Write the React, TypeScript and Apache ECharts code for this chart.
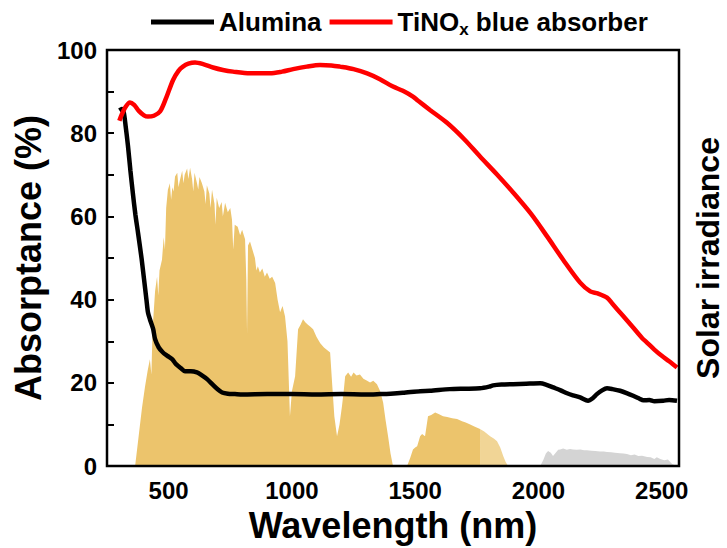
import React, { useEffect, useRef } from "react";
import * as echarts from "echarts";

const FONT = '"Liberation Sans", Arial, Helvetica, sans-serif';

const xTickLabels = [500, 1000, 1500, 2000, 2500];

const alumina: [number, number][] = [
  [300, 85.5], [310, 85.8], [318, 85], [325, 82], [335, 77], [345, 71], [355, 65.5], [365, 60.5],
  [376, 56], [390, 50], [400, 45], [410, 40], [416, 37], [424, 35.3], [437, 33], [445, 30.5],
  [460, 28.5], [477, 27.3], [495, 26.5], [514, 25.7], [530, 24.5], [550, 23.5], [566, 22.8],
  [590, 22.8], [615, 22.5], [635, 21.8], [656, 20.9], [680, 19.5], [700, 18.4], [717, 17.7],
  [740, 17.4], [769, 17.3], [800, 17.2], [900, 17.3], [1000, 17.3], [1100, 17.2], [1200, 17.3],
  [1300, 17.2], [1357, 17.3], [1400, 17.4], [1450, 17.6], [1520, 18], [1560, 18.1], [1640, 18.5],
  [1700, 18.6], [1763, 18.7], [1800, 19.1], [1816, 19.4], [1850, 19.6], [1897, 19.7], [1950, 19.8],
  [2007, 19.9], [2030, 19.6], [2060, 18.9], [2090, 18.2], [2116, 17.5], [2140, 17], [2169, 16.5],
  [2201, 15.7], [2220, 16.3], [2237, 17.3], [2258, 18.2], [2278, 18.7], [2300, 18.5], [2331, 18.1],
  [2360, 17.5], [2384, 16.9], [2410, 16.2], [2425, 15.8], [2450, 15.9], [2470, 15.6], [2506, 15.7],
  [2530, 15.9], [2562, 15.7],
];

const tinox: [number, number][] = [
  [300, 83], [310, 84.5], [325, 86.3], [343, 87.4], [360, 86.8], [380, 85.3], [400, 84.3], [416, 84],
  [440, 84.2], [465, 85.2], [490, 88.5], [518, 92.8], [540, 95], [558, 96], [580, 96.7], [607, 97],
  [640, 96.6], [680, 95.8], [720, 95.2], [761, 94.8], [830, 94.4], [911, 94.4], [960, 94.8],
  [1005, 95.4], [1060, 96], [1114, 96.4], [1160, 96.3], [1195, 96], [1250, 95.4], [1305, 94.4],
  [1357, 93], [1410, 91.2], [1450, 90.2], [1491, 88.8], [1512, 87.8], [1560, 85.6], [1629, 82.5],
  [1700, 78.5], [1763, 74.4], [1830, 70.2], [1898, 65.7], [1970, 60.6], [2035, 55.2], [2100, 49.6],
  [2169, 44.1], [2210, 42], [2240, 41.5], [2278, 40.5], [2300, 39], [2340, 36.3], [2384, 33.3],
  [2420, 30.8], [2440, 29.7], [2470, 28], [2500, 26.5], [2530, 25.2], [2562, 23.7],
];

const solarMain: [number, number][] = [
  [364, 0], [380, 8], [392, 14], [404, 19], [415, 23], [424, 25.7], [430, 22], [435, 33], [445, 42],
  [453, 45.5], [458, 41], [463, 47], [473, 49.6], [480, 55], [485, 52], [490, 62], [497, 66.4],
  [505, 68], [510, 64], [515, 67], [520, 66], [526, 69.6], [535, 70.5], [540, 67], [545, 68.5],
  [555, 71], [560, 68], [565, 70], [575, 71.5], [580, 69], [587, 71.7], [595, 69], [600, 66],
  [605, 70.5], [615, 68], [620, 66.5], [625, 69.5], [635, 68], [645, 66], [650, 63], [655, 67.5],
  [665, 65.5], [670, 62], [676, 66.4], [686, 63], [690, 58], [695, 64.5], [705, 62], [715, 63.5],
  [720, 60], [729, 63.3], [740, 61], [750, 62], [757, 59.2], [762, 52], [768, 58], [780, 57.5],
  [790, 55.5], [798, 56.8], [810, 54.5], [815, 45], [818, 32], [822, 53], [830, 54], [840, 52],
  [850, 50], [856, 47], [862, 48], [870, 46.5], [880, 47.5], [890, 45.5], [899, 46.5], [910, 45],
  [920, 45.5], [932, 44], [942, 40], [952, 37], [962, 38.5], [972, 36], [982, 30], [992, 12],
  [1000, 18], [1013, 21.6], [1025, 32.9], [1035, 34], [1045, 35.3], [1055, 34.5], [1065, 34],
  [1075, 33.5], [1086, 32.9], [1100, 31], [1115, 29.5], [1130, 28.5], [1145, 27.8], [1155, 27.3],
  [1163, 20], [1172, 12], [1183, 7.2], [1193, 10], [1203, 14.4], [1210, 18], [1216, 21.6],
  [1228, 22.5], [1240, 21.5], [1250, 22.5], [1262, 21.8], [1276, 22], [1290, 21], [1305, 20.5],
  [1317, 20.1], [1330, 20.5], [1345, 19.7], [1358, 18], [1370, 15.3], [1380, 11], [1390, 7.2],
  [1400, 3], [1410, 0], [1467, 0], [1480, 2], [1491, 4], [1500, 4.5], [1508, 4.8], [1520, 7.2],
  [1528, 7.7], [1540, 7.2], [1552, 12], [1565, 12.3], [1581, 12.9], [1595, 12.5], [1613, 12],
  [1630, 11.8], [1650, 11.5], [1670, 11.3], [1690, 10.8], [1705, 10.5], [1723, 10], [1740, 9.5],
  [1763, 8.9],
];

const solarLight: [number, number][] = [
  [1763, 8.9], [1780, 8.3], [1795, 7.6], [1804, 7.2], [1820, 6.6], [1832, 6], [1845, 4.5],
  [1857, 2.4], [1867, 1], [1877, 0],
];

const solarGrey: [number, number][] = [
  [2007, 0], [2020, 1.5], [2030, 3], [2039, 3.6], [2050, 3.2], [2059, 2.4], [2070, 3.2], [2080, 3.9],
  [2088, 4], [2100, 4.2], [2115, 3.9], [2128, 4.1], [2140, 4], [2155, 3.9], [2170, 4], [2185, 3.8],
  [2197, 3.8], [2215, 3.7], [2230, 3.6], [2250, 3.5], [2265, 3.5], [2278, 3.4], [2295, 3.3],
  [2310, 3.2], [2330, 3.1], [2345, 3], [2359, 2.9], [2375, 2.6], [2390, 2.8], [2405, 2.4],
  [2420, 2.5], [2441, 2.2], [2455, 2.1], [2470, 1.7], [2480, 2.1], [2494, 1.7], [2510, 1.4],
  [2525, 1.6], [2542, 0.5], [2555, 0.2], [2562, 0],
];

function areaSeries(name: string, data: [number, number][], color: string) {
  return {
    name,
    type: "line",
    data,
    showSymbol: false,
    symbol: "none",
    silent: true,
    lineStyle: { width: 0, color },
    itemStyle: { color },
    areaStyle: { color, opacity: 1 },
    z: 1,
  };
}

export default function App() {
  const ref = useRef<HTMLDivElement>(null);
  useEffect(() => {
    if (!ref.current) return;
    const chart = echarts.init(ref.current, null, { renderer: "svg" });
    chart.setOption({
      animation: false,
      backgroundColor: "#fff",
      textStyle: { fontFamily: FONT, fontWeight: "bold", color: "#000" },
      grid: {
        left: 107,
        right: 48,
        top: 50,
        bottom: 81,
        show: true,
        borderColor: "#000",
        borderWidth: 2.5,
        backgroundColor: "transparent",
        z: 10,
      },
      legend: {
        left: 146,
        top: 4,
        data: ["Alumina", "TiNOx blue absorber"],
        icon: "rect",
        itemWidth: 63,
        itemHeight: 5,
        itemGap: 8,
        selectedMode: false,
        formatter: (name: string) =>
          name === "TiNOx blue absorber" ? "TiNO{sub|x} blue absorber" : name,
        textStyle: {
          fontFamily: FONT,
          fontWeight: "bold",
          fontSize: 26,
          color: "#000",
          rich: {
            sub: {
              fontFamily: FONT,
              fontWeight: "bold",
              fontSize: 17,
              color: "#000",
              padding: [14, 0, 0, 0],
            },
          },
        },
      },
      xAxis: {
        type: "value",
        min: 250,
        max: 2570,
        name: "Wavelength (nm)",
        nameLocation: "middle",
        nameGap: 35,
        nameTextStyle: { fontFamily: FONT, fontWeight: "bold", fontSize: 36, color: "#000" },
        axisLine: { show: false },
        axisTick: { show: false },
        splitLine: { show: false },
        axisLabel: {
          customValues: xTickLabels,
          margin: 12,
          fontFamily: FONT,
          fontWeight: "bold",
          fontSize: 24,
          color: "#000",
          formatter: (v: number) => String(v),
        },
      },
      yAxis: {
        type: "value",
        min: 0,
        max: 100,
        interval: 10,
        name: "Absorptance (%)",
        nameLocation: "middle",
        nameGap: 57,
        nameTextStyle: { fontFamily: FONT, fontWeight: "bold", fontSize: 36, color: "#000" },
        axisLine: { show: false },
        axisTick: { show: true, inside: true, length: 7, lineStyle: { color: "#000", width: 2 } },
        splitLine: { show: false },
        axisLabel: {
          margin: 10,
          fontFamily: FONT,
          fontWeight: "bold",
          fontSize: 24,
          color: "#000",
          formatter: (v: number) => (v % 20 === 0 ? String(v) : ""),
        },
      },
      graphic: [
        {
          type: "text",
          x: 708,
          y: 258,
          rotation: Math.PI / 2,
          style: {
            text: "Solar irradiance",
            fontFamily: FONT,
            fontWeight: "bold",
            fontSize: 32,
            fill: "#000",
            align: "center",
            verticalAlign: "middle",
          },
        },
      ],
      series: [
        areaSeries("solar", solarMain, "#ECC46C"),
        areaSeries("solar2", solarLight, "#F1D596"),
        areaSeries("solar3", solarGrey, "#D4D4D4"),
        {
          name: "Alumina",
          type: "line",
          data: alumina,
          showSymbol: false,
          symbol: "none",
          smooth: 0.25,
          lineStyle: { color: "#000", width: 4.5 },
          itemStyle: { color: "#000" },
          z: 3,
        },
        {
          name: "TiNOx blue absorber",
          type: "line",
          data: tinox,
          showSymbol: false,
          symbol: "none",
          smooth: 0.3,
          lineStyle: { color: "#FF0000", width: 4.5 },
          itemStyle: { color: "#FF0000" },
          z: 4,
        },
      ],
    });
    return () => chart.dispose();
  }, []);
  return <div ref={ref} style={{ width: 727, height: 548, position: "absolute", left: 0, top: 0 }} />;
}
